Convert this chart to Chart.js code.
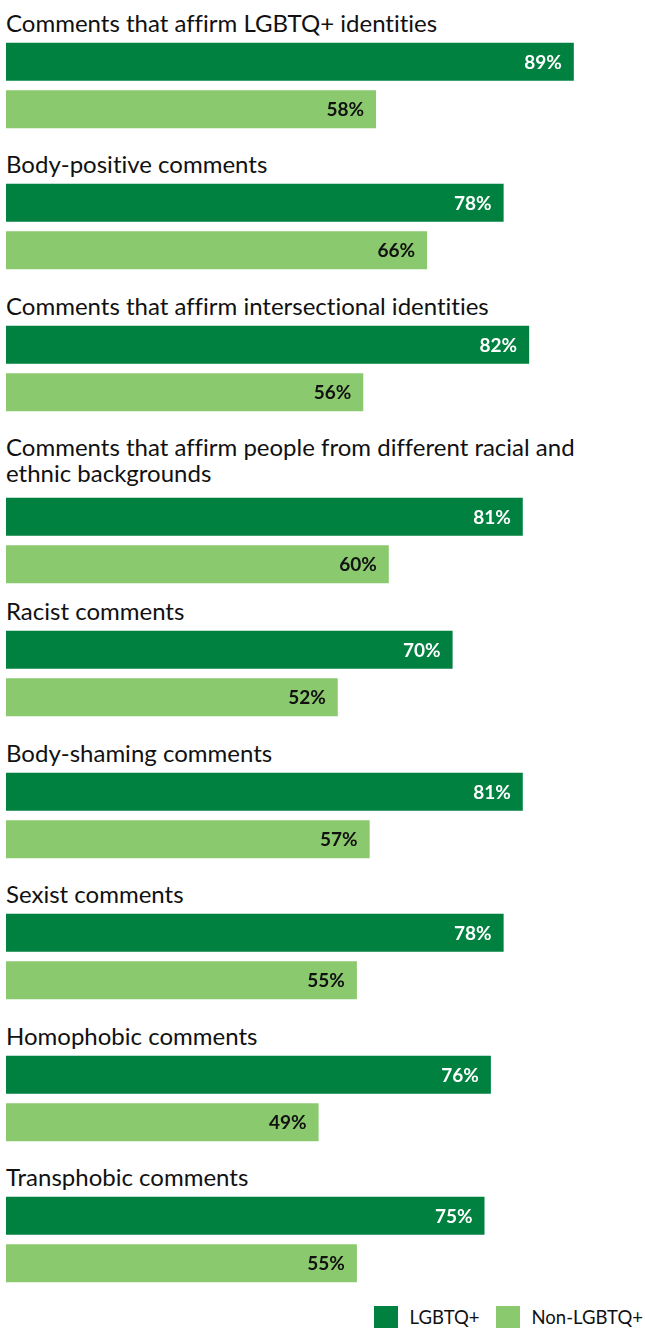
<!DOCTYPE html>
<html>
<head>
<meta charset="utf-8">
<script src="https://cdn.jsdelivr.net/npm/chart.js@4"></script>
<style>
  body { margin: 0; background: #fff; font-family: Lato, "Noto Sans", sans-serif; color: #111; font-variant-ligatures: none; }
  #wrap { width: 645px; padding-top: 9.5px; }
  .group { margin-bottom: 18.5px; }
  .group.twoline { margin-bottom: 10px; }
  .label { font-size: 24px; line-height: 26px; padding-left: 6px; margin-bottom: 2px; max-width: 600px; }
  .twoline .label { margin-bottom: 7px; }
  .group canvas { display: block; margin-left: 6px; }
  #legend { display: flex; justify-content: flex-end; align-items: center; padding-right: 2px; font-size: 18.5px; }
  .item { display: flex; align-items: center; margin-left: 16px; }
  .swatch { width: 24px; height: 22px; margin-right: 12px; }
</style>
</head>
<body>
<div id="wrap">
  <div id="groups"></div>
  <div id="legend"></div>
</div>
<script>
// chart values
const categories = [
    "Comments that affirm LGBTQ+ identities",
    "Body-positive comments",
    "Comments that affirm intersectional identities",
    "Comments that affirm people from different racial and ethnic backgrounds",
    "Racist comments",
    "Body-shaming comments",
    "Sexist comments",
    "Homophobic comments",
    "Transphobic comments"
];
const seriesNames = ["LGBTQ+", "Non-LGBTQ+"];
const lgbtq = [89, 78, 82, 81, 70, 81, 78, 76, 75];
const nonLgbtq = [58, 66, 56, 60, 52, 57, 55, 49, 55];

const colors = ["#00813f", "#8bc96f"];
const textColors = ["#ffffff", "#111111"];

// draws "89%" inside the end of each bar
const valueLabels = {
    id: "valueLabels",
    afterDatasetsDraw(chart) {
        const ctx = chart.ctx;
        const meta = chart.getDatasetMeta(0);
        const values = chart.data.datasets[0].data;
        ctx.save();
        ctx.font = "bold 19px Lato";
        ctx.textAlign = "right";
        ctx.textBaseline = "middle";
        meta.data.forEach((bar, i) => {
            ctx.fillStyle = textColors[i];
            ctx.fillText(values[i] + "%", bar.x - 12, bar.y + 1);
        });
        ctx.restore();
    }
};

const groupsDiv = document.getElementById("groups");

categories.forEach((cat, i) => {
    const group = document.createElement("div");
    group.className = "group";
    const label = document.createElement("div");
    label.className = "label";
    label.textContent = cat;
    const canvas = document.createElement("canvas");
    canvas.width = 638;
    canvas.height = 95;
    group.appendChild(label);
    group.appendChild(canvas);
    groupsDiv.appendChild(group);
    // wrapped labels get a bit more room, like the original
    if (label.offsetHeight > 30) group.classList.add("twoline");

    new Chart(canvas.getContext("2d"), {
        type: "bar",
        data: {
            labels: seriesNames,
            datasets: [{
                data: [lgbtq[i], nonLgbtq[i]],
                backgroundColor: colors,
                barPercentage: 0.8,
                categoryPercentage: 1
            }]
        },
        options: {
            indexAxis: "y",
            responsive: false,
            animation: false,
            layout: { padding: 0 },
            plugins: {
                legend: { display: false },
                tooltip: { enabled: false }
            },
            scales: {
                x: { display: false, min: 0, max: 100 },
                y: { display: false }
            }
        },
        plugins: [valueLabels]
    });
});

// legend
const legend = document.getElementById("legend");
seriesNames.forEach((name, i) => {
    const item = document.createElement("div");
    item.className = "item";
    item.innerHTML = `<span class="swatch" style="background:${colors[i]}"></span><span>${name}</span>`;
    legend.appendChild(item);
});
</script>
</body>
</html>
